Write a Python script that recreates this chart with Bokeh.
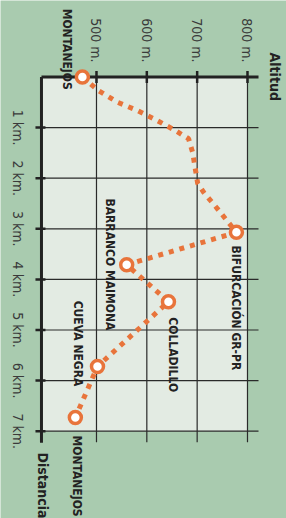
import math
from bokeh.plotting import figure
from bokeh.models import Range1d
from bokeh.core.properties import value
from bokeh.embed import file_html
from bokeh.resources import INLINE

# ---- data ----
distance_km = [0.0, 0.27, 0.50, 0.66, 0.84, 1.06, 1.22, 1.49, 2.10, 2.28, 2.60, 3.07, 3.71, 4.44, 5.72, 6.73]
altitude_m = [472, 504, 542, 581, 617, 657, 683, 691, 701, 713, 740, 778, 560, 643, 502, 458]

waypoint_names = ["MONTANEJOS", "BIFURCACIÓN GR-PR", "BARRANCO MAIMONA",
                  "COLLADILLO", "CUEVA NEGRA", "MONTANEJOS"]
waypoint_km = [0.0, 3.07, 3.71, 4.44, 5.72, 6.73]
waypoint_alt = [472, 778, 560, 643, 502, 458]

altitude_ticks = [500, 600, 700, 800]
altitude_labels = ["500 m.", "600 m.", "700 m.", "800 m."]
distance_ticks = [1, 2, 3, 4, 5, 6, 7]
distance_labels = ["1 km.", "2 km.", "3 km.", "4 km.", "5 km.", "6 km.", "7 km."]

# ---- layout / style ----
ORANGE = "#e8743b"
INK = "#222222"
PAGE_GREEN = "#a9cbaf"
PANEL = "#e3ebe3"
COND = "DejaVu Sans Condensed"

W, H = 286, 518
X0, X1 = 309.3, 877.5          # altitude range shown across the canvas
Y0, Y1 = -1.512, 8.725         # distance range shown down the canvas
PX_M = W / (X1 - X0)           # pixels per metre
PX_KM = H / (Y1 - Y0)          # pixels per km
AX_X = 390.7                   # where the distance axis sits (altitude units)
GRID_X_END = 821.9
GRID_Y_END = 7.22

p = figure(width=W, height=H, output_backend="svg", toolbar_location=None,
           x_axis_location=None, y_axis_location=None,
           x_range=Range1d(X0, X1), y_range=Range1d(Y1, Y0),
           min_border=0)
p.border_fill_color = PAGE_GREEN
p.background_fill_color = PAGE_GREEN
p.outline_line_color = None
for g in p.grid:
    g.visible = False

# light panel
p.quad(left=[AX_X], right=[altitude_ticks[-1]], top=[0.0], bottom=[distance_ticks[-1]],
       fill_color=PANEL, line_color=None)

# grid lines
p.segment(x0=altitude_ticks, x1=altitude_ticks, y0=[0.0] * 4, y1=[GRID_Y_END] * 4,
          line_color="#2a2a2a", line_width=1.2)
p.segment(x0=[AX_X] * 7, x1=[GRID_X_END] * 7, y0=distance_ticks, y1=distance_ticks,
          line_color="#2a2a2a", line_width=1.2)

# axis lines
p.segment(x0=[AX_X, AX_X], x1=[GRID_X_END, AX_X], y0=[0.0, 0.0], y1=[0.0, GRID_Y_END + 0.01],
          line_color=INK, line_width=3)
# ticks
p.segment(x0=altitude_ticks, x1=altitude_ticks,
          y0=[-6 / PX_KM] * 4, y1=[6 / PX_KM] * 4, line_color=INK, line_width=2.5)
p.segment(x0=[AX_X - 6 / PX_M] * 7, x1=[AX_X + 4 / PX_M] * 7,
          y0=distance_ticks, y1=distance_ticks, line_color=INK, line_width=2.5)

# tick labels (rotated, reading downwards)
p.text(x=altitude_ticks, y=[-14.5 / PX_KM] * 4, text=altitude_labels, angle=-math.pi / 2,
       text_align="right", text_baseline="middle", text_font=value(COND),
       text_font_size="14px", text_color="#3a3a3a")
p.text(x=[AX_X - 23.5 / PX_M] * 7, y=distance_ticks, text=distance_labels, angle=-math.pi / 2,
       text_align="center", text_baseline="middle", text_font=value(COND),
       text_font_size="14px", text_color="#3a3a3a")

# route
p.line(altitude_m, distance_km, line_color=ORANGE, line_width=5, line_dash="5 6", line_cap="butt")
p.scatter(waypoint_alt, waypoint_km, size=12, fill_color="white", line_color=ORANGE, line_width=3.5)

# waypoint labels: anchor = (column centre, start of text)
label_x = [442.4, 778.0, 526.0, 652.0, 463.0, 460.3]
label_y = [-1.35, 3.33, 2.40, 4.75, 4.42, 7.085]
p.text(x=label_x, y=label_y, text=waypoint_names, angle=-math.pi / 2,
       text_align="left", text_baseline="middle", text_font=value(COND),
       text_font_style="bold", text_font_size="12px", text_color=INK)

# axis titles
p.text(x=[855.6, 393.7], y=[-0.484, 7.42], text=["Altitud", "Distancia"], angle=-math.pi / 2,
       text_align="left", text_baseline="middle", text_font=value(COND),
       text_font_style="bold", text_font_size="14px", text_color=INK)

open("out.html", "w").write(file_html(p, INLINE))
